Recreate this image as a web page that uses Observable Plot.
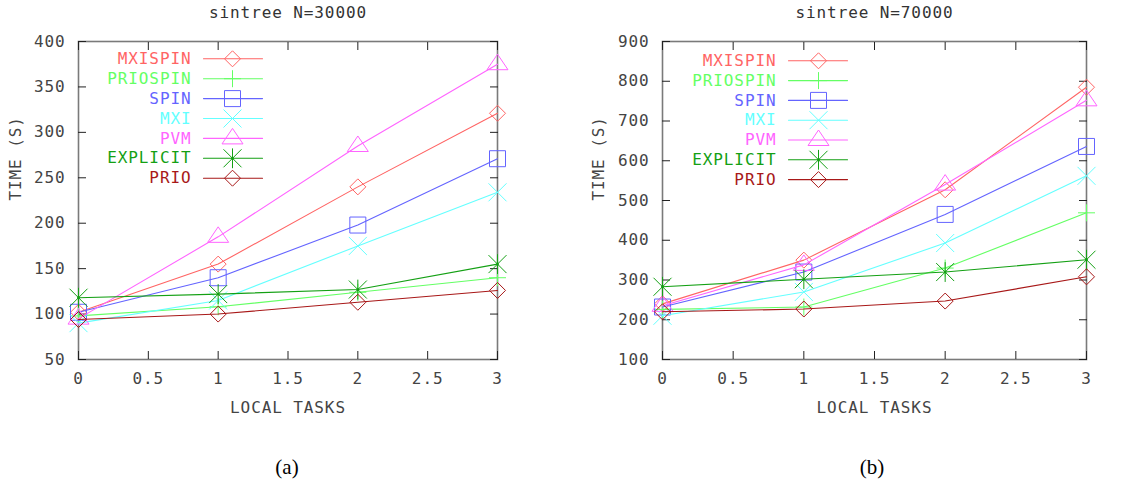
<!DOCTYPE html>
<html><head><meta charset="utf-8">
<script src="https://cdn.jsdelivr.net/npm/d3@7"></script>
<script src="https://cdn.jsdelivr.net/npm/@observablehq/plot@0.6"></script>
<style>
body{margin:0;background:#fff;width:1135px;height:496px;position:relative;overflow:hidden}
#charts{display:flex;position:absolute;left:0;top:0}
.cap{position:absolute;top:455px;font-family:"Liberation Serif",serif;font-size:21px;transform:translateX(-50%);color:#000}
</style></head><body>
<div id="charts"></div>
<div class="cap" style="left:287px">(a)</div>
<div class="cap" style="left:872px">(b)</div>
<script>
// ---- data ----
const tasks = [0, 1, 2, 3];
const seriesNames = ["MXISPIN", "PRIOSPIN", "SPIN", "MXI", "PVM", "EXPLICIT", "PRIO"];
const seriesColors = ["#ff6464", "#64ff64", "#6464ff", "#64ffff", "#ff64ff", "#14a014", "#a81818"];
const xTicks = [0, 0.5, 1, 1.5, 2, 2.5, 3];
const yTicksA = [50, 100, 150, 200, 250, 300, 350, 400];
const yTicksB = [100, 200, 300, 400, 500, 600, 700, 800, 900];

// sintree N=30000
const mxispinA  = [102, 155, 240, 321];
const priospinA = [98, 108, 124, 140];
const spinA     = [102, 140, 198, 271];
const mxiA      = [90, 115, 175, 234];
const pvmA      = [95, 185, 285, 375];
const explicitA = [118, 122, 127, 155];
const prioA     = [94, 100, 113, 126];

// sintree N=70000
const mxispinB  = [240, 350, 527, 785];
const priospinB = [226, 232, 330, 469];
const spinB     = [232, 320, 465, 636];
const mxiB      = [210, 270, 393, 562];
const pvmB      = [235, 338, 540, 752];
const explicitB = [283, 302, 320, 351];
const prioB     = [220, 227, 247, 308];

// ---- symbols (gnuplot-like) ----
const rad = s => Math.sqrt(s / Math.PI);
const symDiamond = {draw(c, s){const r = rad(s); c.moveTo(0,-r); c.lineTo(r,0); c.lineTo(0,r); c.lineTo(-r,0); c.closePath();}};
const symPlus = {draw(c, s){const r = rad(s); c.moveTo(0,-r); c.lineTo(0,r); c.moveTo(-r,0); c.lineTo(r,0);}};
const symSquare = {draw(c, s){const r = rad(s); c.rect(-r,-r,2*r,2*r);}};
const symTimes = {draw(c, s){const r = rad(s); c.moveTo(-r,-r); c.lineTo(r,r); c.moveTo(r,-r); c.lineTo(-r,r);}};
const symTriangle = {draw(c, s){const r = rad(s); c.moveTo(0,-r); c.lineTo(1.05*r,0.55*r); c.lineTo(-1.05*r,0.55*r); c.closePath();}};
const symStar = {draw(c, s){const r = rad(s); c.moveTo(-r,-r); c.lineTo(r,r); c.moveTo(r,-r); c.lineTo(-r,r); c.moveTo(0,-1.1*r); c.lineTo(0,1.1*r); c.rect(-0.8,-0.8,1.6,1.6);}};
const seriesSymbols = [symDiamond, symPlus, symSquare, symTimes, symTriangle, symStar, symDiamond];
const seriesR = [8, 8.5, 8, 9, 10, 9, 8];
const lineShape = {draw(c, l){c.moveTo(0,0); c.lineTo(0,-l);}};

function chart(title, values, yDomain, yTicks, cfg) {
  const marks = [];
  marks.push(Plot.frame({stroke: "#7a7a7a", strokeWidth: 1.6}));
  // inward ticks
  marks.push(Plot.axisX({anchor: "bottom", ticks: xTicks, tickSize: -8, tickFormat: () => "", label: null, stroke: "#222"}));
  marks.push(Plot.axisX({anchor: "top", ticks: xTicks, tickSize: -8, tickFormat: () => "", label: null, stroke: "#222"}));
  marks.push(Plot.axisY({anchor: "left", ticks: yTicks, tickSize: -8, tickFormat: () => "", label: null, stroke: "#222"}));
  marks.push(Plot.axisY({anchor: "right", ticks: yTicks, tickSize: -8, tickFormat: () => "", label: null, stroke: "#222"}));
  // tick labels
  marks.push(Plot.axisX({anchor: "bottom", ticks: xTicks, tickSize: 0, tickPadding: 13, tickFormat: d => String(d), label: null, fill: "#444"}));
  marks.push(Plot.axisY({anchor: "left", ticks: yTicks, tickSize: 0, tickPadding: 13, tickFormat: d => String(d), label: null, fill: "#444"}));
  // series
  seriesNames.forEach((name, i) => {
    const rows = tasks.map((t, j) => ({x: t, y: values[i][j]}));
    marks.push(Plot.line(rows, {x: "x", y: "y", stroke: seriesColors[i], strokeWidth: 1.1}));
    marks.push(Plot.dot(rows, {x: "x", y: "y", symbol: seriesSymbols[i], r: seriesR[i], stroke: seriesColors[i], fill: "none", strokeWidth: 1}));
    // legend entry
    const dy = cfg.legY0 + i * cfg.legStep;
    marks.push(Plot.text([name], {frameAnchor: "top-left", lineAnchor: "middle", dx: cfg.legTextX, dy, text: d => d, textAnchor: "end", fill: seriesColors[i]}));
    marks.push(Plot.vector([name], {frameAnchor: "top-left", dx: cfg.legLineX, dy, length: cfg.legLineLen, rotate: 90, anchor: "start", shape: lineShape, stroke: seriesColors[i], strokeWidth: 1.1}));
    marks.push(Plot.dot([name], {frameAnchor: "top-left", dx: cfg.legMarkX, dy, symbol: seriesSymbols[i], r: seriesR[i], stroke: seriesColors[i], fill: "none", strokeWidth: 1}));
  });
  // titles
  marks.push(Plot.text([title], {frameAnchor: "top", lineAnchor: "middle", dy: -29, text: d => d, fill: "#333"}));
  marks.push(Plot.text(["LOCAL TASKS"], {frameAnchor: "bottom", lineAnchor: "middle", dy: 48, text: d => d, fill: "#444"}));
  marks.push(Plot.text(["TIME (S)"], {frameAnchor: "left", lineAnchor: "middle", dx: cfg.yLabelDx, rotate: -90, text: d => d, fill: "#444"}));
  return Plot.plot({
    width: cfg.width, height: 430,
    marginLeft: cfg.marginLeft, marginRight: cfg.marginRight, marginTop: 41, marginBottom: 71,
    x: {domain: [0, 3]},
    y: {domain: yDomain},
    style: {fontFamily: "'DejaVu Sans Mono', monospace", fontSize: "16px", letterSpacing: "0.9px", background: "#fff", overflow: "visible", color: "#444"},
    marks
  });
}

const valsA = [mxispinA, priospinA, spinA, mxiA, pvmA, explicitA, prioA];
const valsB = [mxispinB, priospinB, spinB, mxiB, pvmB, explicitB, prioB];
const host = document.getElementById("charts");
host.appendChild(chart("sintree N=30000", valsA, [50, 400], yTicksA,
  {width: 567, marginLeft: 78, marginRight: 70, yLabelDx: -63,
   legY0: 17.3, legStep: 19.9, legTextX: 113, legLineX: 125, legLineLen: 59, legMarkX: 154}));
host.appendChild(chart("sintree N=70000", valsB, [100, 900], yTicksB,
  {width: 568, marginLeft: 95, marginRight: 49, yLabelDx: -64,
   legY0: 19.3, legStep: 19.8, legTextX: 114, legLineX: 126, legLineLen: 59, legMarkX: 156}));
</script></body></html>
